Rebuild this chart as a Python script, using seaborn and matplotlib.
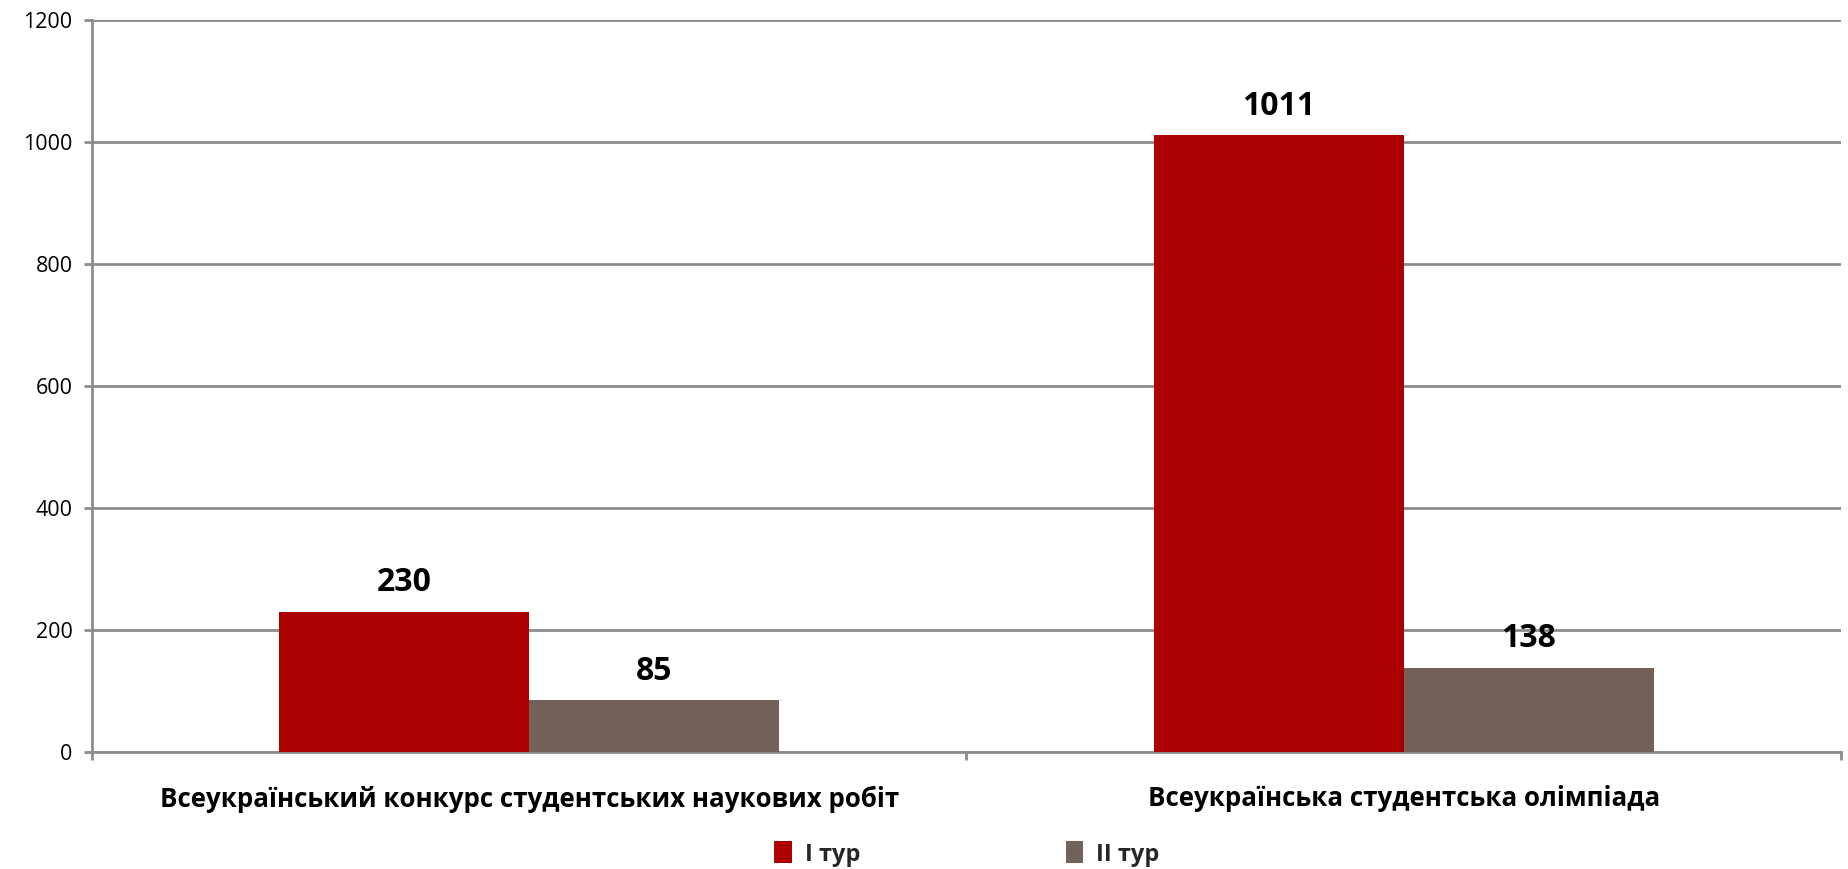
import matplotlib
matplotlib.use("Agg")
import matplotlib.pyplot as plt
import seaborn as sns
import pandas as pd
from matplotlib.patches import Patch

categories = ["Всеукраїнський конкурс студентських наукових робіт",
              "Всеукраїнська студентська олімпіада"]
series_names = ["I тур", "II тур"]
round1 = [230, 1011]
round2 = [85, 138]
y_ticks = [0, 200, 400, 600, 800, 1000, 1200]

colors = ["#AD0000", "#736258"]
grid_color = "#8C8C8C"

sns.set_theme(style="white")
plt.rcParams["font.family"] = ["Open Sans", "DejaVu Sans"]

df = pd.DataFrame({
    "category": categories * 2,
    "series": [series_names[0]] * 2 + [series_names[1]] * 2,
    "value": round1 + round2,
})

fig = plt.figure(figsize=(18.49, 8.69), dpi=100)
ax = fig.add_axes([92 / 1849, 1 - 752 / 869, (1841 - 92) / 1849, (752 - 20) / 869])

sns.barplot(data=df, x="category", y="value", hue="series", order=categories,
            hue_order=series_names, palette=colors, width=0.572, gap=0,
            saturation=1, legend=False, ax=ax, edgecolor="none", linewidth=0)

ax.set_xlim(-0.5, 1.5)
ax.set_ylim(0, 1200)
ax.set_yticks(y_ticks)
ax.set_yticklabels([str(t) for t in y_ticks], fontsize=15.5, color="black")
ax.grid(axis="y", color=grid_color, linewidth=2)
ax.set_axisbelow(True)

for side in ["top", "right"]:
    ax.spines[side].set_visible(False)
for side in ["left", "bottom"]:
    ax.spines[side].set_color(grid_color)
    ax.spines[side].set_linewidth(2)
ax.spines["bottom"].set_zorder(0.5)

ax.tick_params(axis="y", which="major", direction="out", length=6, width=2,
               color=grid_color, left=True, pad=8)
ax.set_xticks([0, 1])
ax.set_xticklabels(categories, fontsize=18.6, fontweight="bold", color="black")
ax.set_xticks([-0.5, 0.5, 1.5], minor=True)
ax.tick_params(axis="x", which="major", length=0, pad=24)
ax.tick_params(axis="x", which="minor", direction="out", length=6, width=2,
               color=grid_color, bottom=True)
ax.set_xlabel("")
ax.set_ylabel("")

for container in ax.containers:
    ax.bar_label(container, labels=[f"{v:.0f}" for v in container.datavalues],
                 padding=9, fontsize=23, fontweight="bold", color="black")

handles = [Patch(facecolor=c, edgecolor="none") for c in colors]
fig.legend(handles, series_names, loc="center",
           bbox_to_anchor=(967 / 1849, 1 - 854 / 869),
           ncol=2, frameon=False, handlelength=0.75, handleheight=1.05,
           handletextpad=0.55, columnspacing=8.7,
           prop={"size": 17, "weight": "bold"})

fig.savefig("out.png", dpi=100)
